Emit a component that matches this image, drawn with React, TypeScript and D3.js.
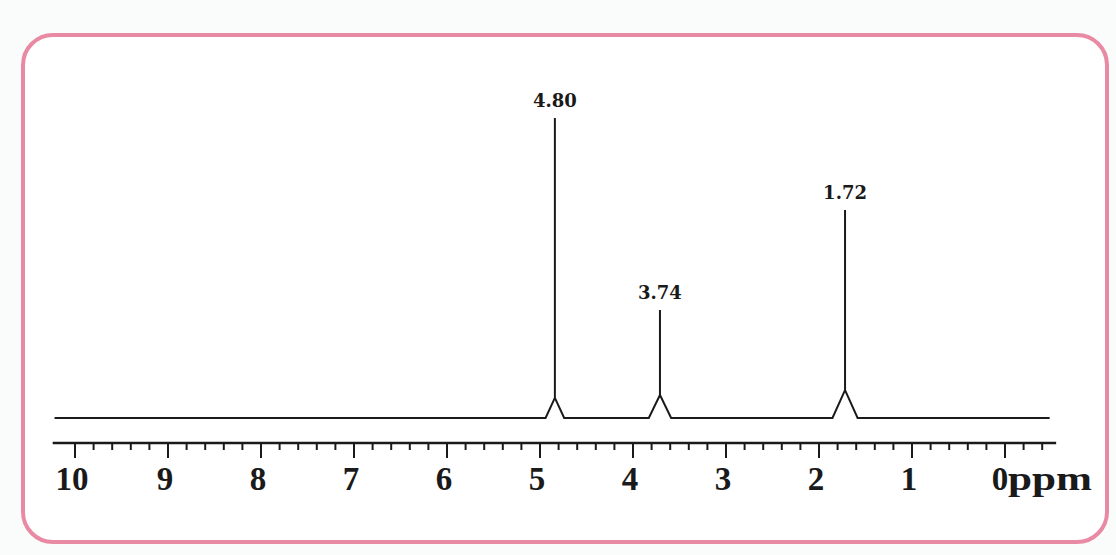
import React, { useEffect, useRef } from 'react';
import * as d3 from 'd3';

// peaks (position in ppm, height and foot of each line)
const peakShifts = [4.84, 3.71, 1.72];
const peakLabels = ['4.80', '3.74', '1.72'];
const peakHeights = [100, 36, 69.3];
const peakBumps = [6.7, 7.7, 9.3];
const peakWidths = [0.1, 0.12, 0.135];

const majorTicks = [10, 9, 8, 7, 6, 5, 4, 3, 2, 1, 0];
const minorTicks = d3.range(-2, 51).map(d => d / 5);
const baselineRange = [10.22, -0.48];
const axisRange = [10.24, -0.55];

const W = 1116;
const H = 555;

export default function App() {
  const node = useRef<SVGSVGElement>(null);

  useEffect(() => {
    const svg = d3.select(node.current);
    svg.selectAll('*').remove();

    const x = d3.scaleLinear().domain([10, 0]).range([75, 1005]);
    const y = d3.scaleLinear().domain([0, 100]).range([418, 118]);
    const axisY = 443;

    // frame
    svg.append('rect')
      .attr('x', 23).attr('y', 35)
      .attr('width', 1084).attr('height', 507)
      .attr('rx', 30)
      .style('fill', '#fff')
      .style('stroke', '#e98aa4')
      .style('stroke-width', 4);

    // spectrum trace
    const pts: [number, number][] = [[baselineRange[0], 0]];
    peakShifts.forEach((s, i) => {
      pts.push([s + peakWidths[i], 0]);
      pts.push([s, peakBumps[i]]);
      pts.push([s, peakHeights[i]]);
      pts.push([s, peakBumps[i]]);
      pts.push([s - peakWidths[i], 0]);
    });
    pts.push([baselineRange[1], 0]);

    const line = d3.line<[number, number]>()
      .x(d => x(d[0]))
      .y(d => y(d[1]));

    svg.append('path')
      .attr('d', line(pts))
      .style('fill', 'none')
      .style('stroke', '#1a1a1a')
      .style('stroke-width', 2)
      .style('stroke-linejoin', 'miter');

    svg.selectAll('text.peak')
      .data(peakShifts)
      .enter()
      .append('text')
      .attr('class', 'peak')
      .attr('x', d => x(d))
      .attr('y', (d, i) => y(peakHeights[i]) - 11)
      .attr('text-anchor', 'middle')
      .style('font-family', '"DejaVu Serif", serif')
      .style('font-weight', 'bold')
      .style('font-size', '18px')
      .style('fill', '#1a1a1a')
      .text((d, i) => peakLabels[i]);

    // ppm axis
    svg.append('line')
      .attr('x1', x(axisRange[0])).attr('x2', x(axisRange[1]))
      .attr('y1', axisY).attr('y2', axisY)
      .style('stroke', '#1a1a1a')
      .style('stroke-width', 2.5);

    svg.selectAll('line.minor')
      .data(minorTicks.filter(d => !majorTicks.includes(d)))
      .enter()
      .append('line')
      .attr('class', 'minor')
      .attr('x1', d => x(d)).attr('x2', d => x(d))
      .attr('y1', axisY).attr('y2', axisY + 7)
      .style('stroke', '#1a1a1a')
      .style('stroke-width', 2);

    svg.selectAll('line.major')
      .data(majorTicks)
      .enter()
      .append('line')
      .attr('class', 'major')
      .attr('x1', d => x(d)).attr('x2', d => x(d))
      .attr('y1', axisY).attr('y2', axisY + 15)
      .style('stroke', '#1a1a1a')
      .style('stroke-width', 2);

    svg.selectAll('text.tick')
      .data(majorTicks)
      .enter()
      .append('text')
      .attr('class', 'tick')
      .attr('x', d => x(d) - (d === 0 ? 5 : 3))
      .attr('y', 490)
      .attr('text-anchor', 'middle')
      .style('font-family', '"Liberation Serif", serif')
      .style('font-weight', 'bold')
      .style('font-size', '33px')
      .style('fill', '#1a1a1a')
      .text(d => d);

    svg.append('text')
      .attr('x', x(0) + 3)
      .attr('y', 490)
      .attr('textLength', 84)
      .attr('lengthAdjust', 'spacingAndGlyphs')
      .style('font-family', '"Liberation Serif", serif')
      .style('font-weight', 'bold')
      .style('font-size', '33px')
      .style('fill', '#1a1a1a')
      .text('ppm');
  }, []);

  return (
    <div style={{ position: 'absolute', left: 0, top: 0 }}>
      <svg ref={node} width={W} height={H} style={{ display: 'block', background: '#fafcfc' }} />
    </div>
  );
}
